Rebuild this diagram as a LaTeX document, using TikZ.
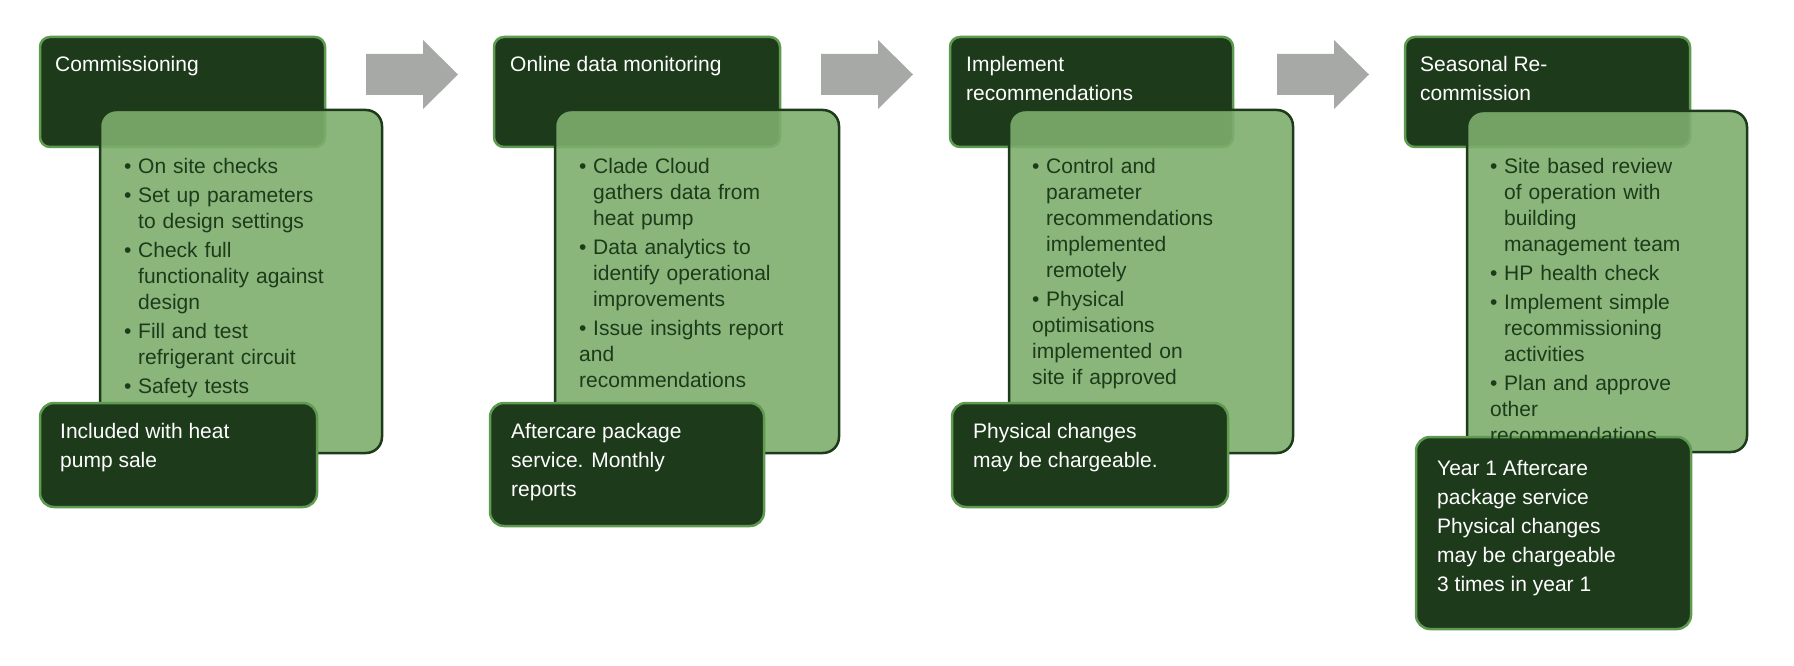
\documentclass[tikz,border=0pt]{standalone}
\usepackage{fontspec}
\setmainfont{Liberation Sans}
\definecolor{dk}{HTML}{1D3A1B}
\definecolor{lt}{HTML}{7DAE6D}
\definecolor{bd}{HTML}{5E9A50}
\definecolor{ar}{HTML}{A7A9A7}
\newcommand{\bitem}[1]{\par\hangindent=14pt\hangafter=1\noindent\makebox[14pt][l]{\textbullet}#1\vspace{3pt}}
\tikzset{
 top/.style={draw=bd,line width=2.5pt,fill=dk,rounded corners=10pt},
 mid/.style={draw=dk,line width=2.5pt,fill=lt,fill opacity=0.9,rounded corners=16pt},
 bot/.style={draw=bd,line width=2.5pt,fill=dk,rounded corners=14pt},
 ttl/.style={anchor=north west,inner sep=0pt,text=white,align=left,font=\fontsize{21}{29}\selectfont},
 bul/.style={anchor=north west,inner sep=0pt,text=dk,text width=265pt,font=\fontsize{21}{26}\selectfont},
 arr/.style={fill=ar,draw=none}
}
\begin{document}
\begin{tikzpicture}[x=1pt,y=-1pt]
\useasboundingbox (0,0) rectangle (1794,666);
% column 1
\path[top] (40,37) rectangle (325,147);
\path[mid] (100,110) rectangle (382,453);
\path[bot] (40,403) rectangle (317,507);
\node[ttl] (t1) at (55,54) {\rule{0pt}{17pt}Commissioning};
\node[bul] (b1) at (124,130) {\rule{0pt}{17pt}\bitem{On site checks}\bitem{Set up parameters\newline to design settings}\bitem{Check full\newline functionality against\newline design}\bitem{Fill and test\newline refrigerant circuit}\bitem{Safety tests}};
\node[ttl] (c1) at (60,421) {\rule{0pt}{17pt}Included with heat\\pump sale};
% arrow 1
\path[arr] (366,54) -- (423,54) -- (423,40) -- (458,74.5) -- (423,109) -- (423,95) -- (366,95) -- cycle;
% column 2
\path[top] (494,37) rectangle (780,147);
\path[mid] (555,110) rectangle (839,453);
\path[bot] (490,403) rectangle (764,526);
\node[ttl] (t2) at (510,54) {\rule{0pt}{17pt}Online data monitoring};
\node[bul] (b2) at (579,130) {\rule{0pt}{17pt}\bitem{Clade Cloud\newline gathers data from\newline heat pump}\bitem{Data analytics to\newline identify operational\newline improvements}\bitem{Issue insights report\newline and\newline recommendations}};
\node[ttl] (c2) at (511,421) {\rule{0pt}{17pt}Aftercare package\\service. Monthly\\reports};
% arrow 2
\path[arr] (821,54) -- (878,54) -- (878,40) -- (913,74.5) -- (878,109) -- (878,95) -- (821,95) -- cycle;
% column 3
\path[top] (950,37) rectangle (1233,147);
\path[mid] (1009,110) rectangle (1293,453);
\path[bot] (952,403) rectangle (1228,507);
\node[ttl] (t3) at (966,54) {\rule{0pt}{17pt}Implement\\recommendations};
\node[bul] (b3) at (1032,130) {\rule{0pt}{17pt}\bitem{Control and\newline parameter\newline recommendations\newline implemented\newline remotely}\bitem{Physical\newline optimisations\newline implemented on\newline site if approved}};
\node[ttl] (c3) at (973,421) {\rule{0pt}{17pt}Physical changes\\may be chargeable.};
% arrow 3
\path[arr] (1277,54) -- (1334,54) -- (1334,40) -- (1369,74.5) -- (1334,109) -- (1334,95) -- (1277,95) -- cycle;
% column 4
\path[top] (1405,37) rectangle (1690,147);
\path[mid] (1467,111) rectangle (1747,452);
\path[bot] (1416,437) rectangle (1691,629);
\node[ttl] (t4) at (1420,54) {\rule{0pt}{17pt}Seasonal Re-\\commission};
\node[bul] (b4) at (1490,130) {\rule{0pt}{17pt}\bitem{Site based review\newline of operation with\newline building\newline management team}\bitem{HP health check}\bitem{Implement simple\newline recommissioning\newline activities}\bitem{Plan and approve\newline other\newline recommendations}};
\node[ttl] (c4) at (1437,458) {\rule{0pt}{17pt}Year 1 Aftercare\\package service\\Physical changes\\may be chargeable\\3 times in year 1};
\end{tikzpicture}
\end{document}
